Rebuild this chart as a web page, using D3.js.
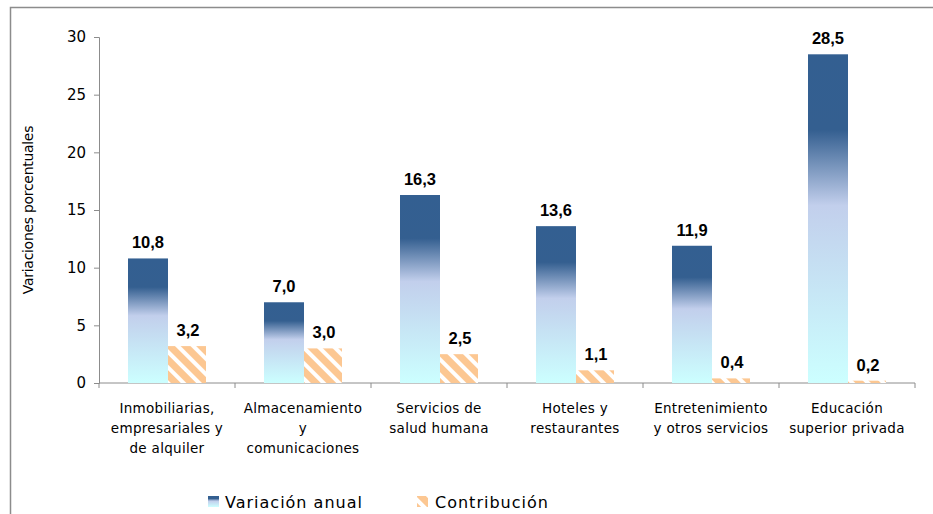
<!DOCTYPE html>
<html>
<head>
<meta charset="utf-8">
<script src="https://cdn.jsdelivr.net/npm/d3@7"></script>
<style>
  body { margin: 0; background: #fff; }
  svg { display: block; }
</style>
</head>
<body>
<div id="chart"></div>
<script>
const categories = [
    ["Inmobiliarias,", "empresariales y", "de alquiler"],
    ["Almacenamiento", "y", "comunicaciones"],
    ["Servicios de", "salud humana"],
    ["Hoteles y", "restaurantes"],
    ["Entretenimiento", "y otros servicios"],
    ["Educación", "superior privada"]
]
const variacion = [10.8, 7.0, 16.3, 13.6, 11.9, 28.5]
const contribucion = [3.2, 3.0, 2.5, 1.1, 0.4, 0.2]
const yTicks = [0, 5, 10, 15, 20, 25, 30]

const width = 933
const height = 514
const margin = {top: 37, bottom: 131, left: 99, right: 18}

const svg = d3.select("div#chart").append("svg").attr("width", width).attr("height", height)

// gradiente y trama
const defs = svg.append("defs")
const grad = defs.append("linearGradient").attr("id", "gradAzul")
    .attr("x1", 0).attr("y1", 0).attr("x2", 0).attr("y2", 1)
grad.append("stop").attr("offset", "0%").attr("stop-color", "#335f91")
grad.append("stop").attr("offset", "23%").attr("stop-color", "#345f90")
grad.append("stop").attr("offset", "46%").attr("stop-color", "#c2cfec")
grad.append("stop").attr("offset", "100%").attr("stop-color", "#ccffff")

const pat = defs.append("pattern").attr("id", "trama")
    .attr("patternUnits", "userSpaceOnUse").attr("width", 11).attr("height", 11)
    .attr("patternTransform", "rotate(-45)")
pat.append("rect").attr("width", 11).attr("height", 11).attr("fill", "#fcc792")
pat.append("rect").attr("x", 0).attr("width", 4).attr("height", 11).attr("fill", "#ffffff")

// marco
svg.append("path").attr("d", `M10.5,${height} V7.5 H${width}`)
    .attr("fill", "none").attr("stroke", "#8c8c8c").attr("stroke-width", 1.5)

const x = d3.scaleBand().domain(d3.range(categories.length))
    .range([margin.left, width - margin.right])
const y = d3.scaleLinear().domain([0, 30]).range([height - margin.bottom, margin.top])

const barW = 40
const offset = (x.bandwidth() - 2 * barW) / 2 + 1

// eje y
const yAxisGroup = svg.append("g").attr("transform", `translate(${margin.left},0)`)
    .call(d3.axisLeft(y).tickValues(yTicks).tickSize(5).tickPadding(8))
yAxisGroup.select(".domain").attr("stroke", "#8c8c8c")
yAxisGroup.selectAll(".tick line").attr("stroke", "#8c8c8c")
yAxisGroup.selectAll(".tick text").style("font-family", "DejaVu Sans").style("font-size", "15px").attr("fill", "#000")

// eje x
const xAxisGroup = svg.append("g").attr("transform", `translate(0,${y(0)})`)
xAxisGroup.append("line").attr("x1", margin.left).attr("x2", width - margin.right)
    .attr("stroke", "#8c8c8c")
const bounds = d3.range(categories.length + 1).map(i => margin.left + i * x.step())
xAxisGroup.selectAll(".xt").data(bounds).enter().append("line")
    .attr("x1", d => d).attr("x2", d => d).attr("y1", 0).attr("y2", 5)
    .attr("stroke", "#8c8c8c")

const elementGroup = svg.append("g")

elementGroup.selectAll(".bar1").data(variacion).enter().append("rect")
    .attr("x", (d, i) => x(i) + offset)
    .attr("y", d => y(d))
    .attr("width", barW)
    .attr("height", d => y(0) - y(d))
    .attr("fill", "url(#gradAzul)")

elementGroup.selectAll(".bar2").data(contribucion).enter().append("rect")
    .attr("x", (d, i) => x(i) + offset + barW)
    .attr("y", d => y(d))
    .attr("width", barW - 2)
    .attr("height", d => y(0) - y(d))
    .attr("fill", "url(#trama)")

// etiquetas
const lblStyle = sel => sel.style("font-family", "Liberation Sans, Arial")
    .style("font-size", "16.5px").style("font-weight", "bold").attr("text-anchor", "middle")

elementGroup.selectAll(".lbl1").data(variacion).enter().append("text")
    .attr("x", (d, i) => x(i) + offset + barW / 2)
    .attr("y", d => y(d) - 10)
    .text(d => d3.format(".1f")(d).replace(".", ","))
    .call(lblStyle)

elementGroup.selectAll(".lbl2").data(contribucion).enter().append("text")
    .attr("x", (d, i) => x(i) + offset + barW + barW / 2)
    .attr("y", d => y(d) - 10)
    .text(d => d3.format(".1f")(d).replace(".", ","))
    .call(lblStyle)

// nombres de categorias
categories.forEach((lines, i) => {
    const t = svg.append("text")
        .attr("x", x(i) + x.bandwidth() / 2)
        .attr("y", y(0) + 30)
        .attr("text-anchor", "middle")
        .style("font-family", "DejaVu Sans").style("font-size", "13.5px")
        .style("letter-spacing", "0.3px")
    lines.forEach((l, j) => t.append("tspan")
        .attr("x", x(i) + x.bandwidth() / 2).attr("dy", j === 0 ? 0 : 20).text(l))
})

// titulo eje y
svg.append("text")
    .attr("transform", `translate(33,${(y(0) + y(30)) / 2}) rotate(-90)`)
    .attr("text-anchor", "middle")
    .style("font-family", "DejaVu Sans").style("font-size", "14px")
    .style("letter-spacing", "-0.3px")
    .text("Variaciones porcentuales")

// leyenda
const legend = svg.append("g").attr("transform", "translate(208,496)")
legend.append("rect").attr("width", 11).attr("height", 11).attr("fill", "url(#gradAzul)")
legend.append("text").attr("x", 17).attr("y", 12).text("Variación anual")
    .style("font-family", "DejaVu Sans").style("font-size", "16px").style("letter-spacing", "1px")
legend.append("rect").attr("x", 209).attr("width", 11).attr("height", 11).attr("fill", "url(#trama)")
legend.append("text").attr("x", 227).attr("y", 12).text("Contribución")
    .style("font-family", "DejaVu Sans").style("font-size", "16px").style("letter-spacing", "1px")
</script>
</body>
</html>
